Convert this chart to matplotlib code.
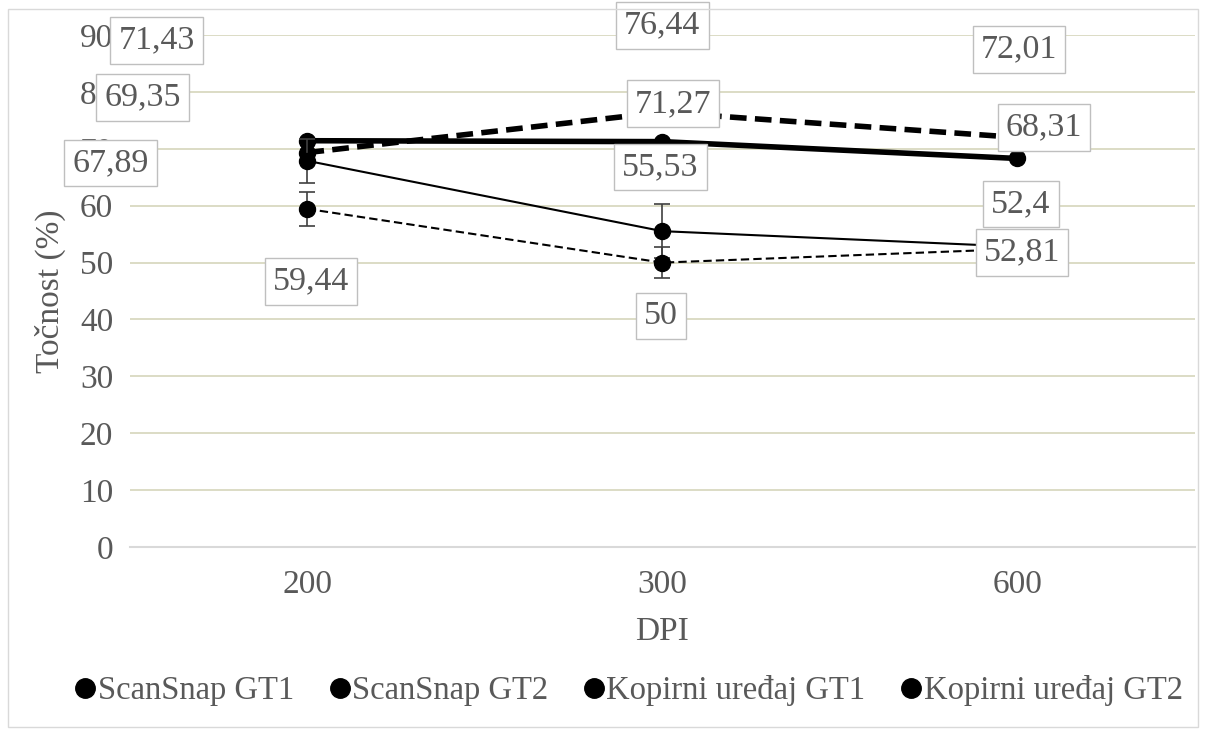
import matplotlib.pyplot as plt
from matplotlib.lines import Line2D
from matplotlib.patches import Rectangle

# data
dpi_labels = ['200', '300', '600']
scansnap_gt1 = [71.43, 71.27, 68.31]
scansnap_gt2 = [69.35, 76.44, 72.01]
kopirni_gt1 = [67.89, 55.53, 52.81]
kopirni_gt2 = [59.44, 50.0, 52.4]
kopirni_gt1_err = [3.9, 4.7, 0.0]
kopirni_gt2_err = [3.0, 2.7, 0.0]
series_names = ['ScanSnap GT1', 'ScanSnap GT2', 'Kopirni uređaj GT1', 'Kopirni uređaj GT2']

# where the data labels were dragged to (data coords), same order as series
label_pos = [
    [(-0.425, 89.1), (1.03, 77.9), (2.076, 73.8)],
    [(-0.465, 79.1), (1.0, 91.7), (2.005, 87.5)],
    [(-0.555, 67.5), (0.994, 66.8), (2.014, 51.8)],
    [(0.01, 46.7), (0.997, 40.6), (2.01, 60.3)],
]

plt.rcParams['font.family'] = ['Liberation Serif', 'DejaVu Serif']
txt_col = '#595959'
grid_col = '#d9d9c0'

fig = plt.figure(figsize=(12.08, 7.31), dpi=100)
ax = fig.add_axes([0.1076, 0.2517, 0.8813, 0.7003])

x = list(range(len(dpi_labels)))

ax.plot(x, scansnap_gt1, color='black', lw=4, marker='o', ms=11.5, zorder=4)
ax.plot(x, scansnap_gt2, color='black', lw=4, ls=(0, (3, 1.5)), marker='o', ms=11.5, zorder=4)
ax.errorbar(x, kopirni_gt1, yerr=kopirni_gt1_err, color='black', lw=1.5, marker='o', ms=11.5,
            ecolor='#404040', elinewidth=1.2, capsize=6, capthick=1.2, zorder=4)
ax.errorbar(x, kopirni_gt2, yerr=kopirni_gt2_err, color='black', lw=1.5, ls=(0, (4, 2)), marker='o', ms=11.5,
            ecolor='#404040', elinewidth=1.2, capsize=6, capthick=1.2, zorder=4)

all_series = [scansnap_gt1, scansnap_gt2, kopirni_gt1, kopirni_gt2]
for vals, poss in zip(all_series, label_pos):
    for v, (px, py) in zip(vals, poss):
        ax.annotate(f'{v:g}'.replace('.', ','), xy=(px, py), ha='center', va='center',
                    fontsize=24.5, color=txt_col, annotation_clip=False, zorder=6,
                    bbox=dict(boxstyle='square,pad=0.24', fc='white', ec='#bfbfbf', lw=1))

ax.set_xlim(-0.5, 2.5)
ax.set_ylim(0, 90)
ax.set_yticks(range(0, 100, 10))
ax.set_xticks(x)
ax.set_xticklabels(dpi_labels)
ax.yaxis.grid(True, color=grid_col, lw=1.3, zorder=0)
ax.set_axisbelow(True)
for s in ['top', 'right', 'left']:
    ax.spines[s].set_visible(False)
ax.spines['bottom'].set_color('#d9d9d9')
ax.spines['bottom'].set_linewidth(1.5)
ax.tick_params(length=0, labelsize=24, labelcolor=txt_col)
ax.tick_params(axis='y', pad=12)
ax.tick_params(axis='x', pad=16)
ax.set_ylabel('Točnost (%)', fontsize=24, color=txt_col, labelpad=10)
ax.set_xlabel('DPI', fontsize=24, color=txt_col, labelpad=12)

handles = [Line2D([], [], ls='none', marker='o', ms=14, color='black') for _ in series_names]
fig.legend(handles, series_names, loc='center', bbox_to_anchor=(0.518, 0.055), ncol=4, frameon=False,
           fontsize=23.5, labelcolor=txt_col, handletextpad=-0.12, columnspacing=0.9, handlelength=1.0)

fig.patches.append(Rectangle((0.007, 0.006), 0.985, 0.982, transform=fig.transFigure,
                             fill=False, ec='#d9d9d9', lw=1))

fig.savefig('out.png', dpi=100)
